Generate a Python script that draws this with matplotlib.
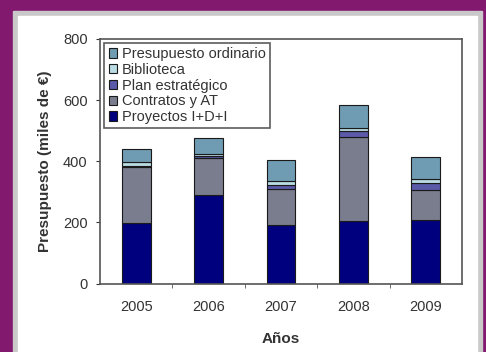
import matplotlib
matplotlib.use("Agg")
import matplotlib.pyplot as plt
from matplotlib.patches import Rectangle
import numpy as np

plt.rcParams["font.family"] = ["Liberation Sans", "DejaVu Sans"]

_BG = "#83186f"
_FRAME = "#c9c9c9"

years = ["2005", "2006", "2007", "2008", "2009"]
proyectos = [199, 290, 190, 203, 207]
contratos = [183, 122, 118, 276, 99]
plan_estrategico = [4, 5, 15, 19, 22]
biblioteca = [10, 8, 12, 11, 14]
ordinario = [43, 52, 70, 76, 71]

series = [
    ("Proyectos I+D+I", proyectos, "#00007f"),
    ("Contratos y AT", contratos, "#7a7d8e"),
    ("Plan estratégico", plan_estrategico, "#5a5aa8"),
    ("Biblioteca", biblioteca, "#b9dbe3"),
    ("Presupuesto ordinario", ordinario, "#6f9cb2"),
]

fig = plt.figure(figsize=(4.86, 3.52), dpi=100, facecolor=_BG)

# grey frame and white card behind the chart
bg = fig.add_axes([0, 0, 1, 1], zorder=0)
bg.set_axis_off()
bg.set_xlim(0, 486)
bg.set_ylim(352, 0)
bg.add_patch(Rectangle((13, 11), 469, 341, color=_FRAME))
bg.add_patch(Rectangle((18, 16), 459, 336, color="white"))

ax = fig.add_axes([100 / 486, 1 - 283.5 / 352, 362 / 486, 244.5 / 352], zorder=1)
x = np.arange(len(years))
bottom = np.zeros(len(years))
handles = []
for label, vals, col in series:
    b = ax.bar(x, vals, 0.4, bottom=bottom, color=col, edgecolor="#1a1a1a",
               linewidth=0.8, label=label, zorder=2)
    bottom += np.array(vals)
    handles.append(b)

ax.set_xlim(-0.5, len(years) - 0.5)
ax.set_ylim(0, 800)
ax.set_yticks([0, 200, 400, 600, 800])
ax.set_xticks(x)
ax.set_xticklabels(years)
ax.set_xticks(np.arange(len(years) - 1) + 0.5, minor=True)
ax.tick_params(axis="x", which="major", length=0, pad=12, labelsize=10.5, colors="#333333")
ax.tick_params(axis="x", which="minor", length=3, color="#555555")
ax.tick_params(axis="y", length=3, pad=6, labelsize=10.5, colors="#333333")
for spine in ax.spines.values():
    spine.set_color("#555555")
    spine.set_linewidth(1.2)

ax.set_ylabel("Presupuesto (miles de €)", fontsize=11, fontweight="bold",
              color="#333333", labelpad=8)
ax.set_xlabel("Años", fontsize=11, fontweight="bold", color="#333333", labelpad=13)

leg = ax.legend(handles[::-1], [s[0] for s in series][::-1], loc="upper left",
                bbox_to_anchor=(0.012, 0.985), fontsize=10.5, frameon=True,
                fancybox=False, edgecolor="#333333", handlelength=0.6,
                handleheight=0.6, handletextpad=0.3, labelspacing=0.12,
                borderpad=0.3, borderaxespad=0)
leg.get_frame().set_linewidth(1.2)
for t in leg.get_texts():
    t.set_color("#333333")

fig.savefig("out.png", dpi=100, facecolor=fig.get_facecolor())
